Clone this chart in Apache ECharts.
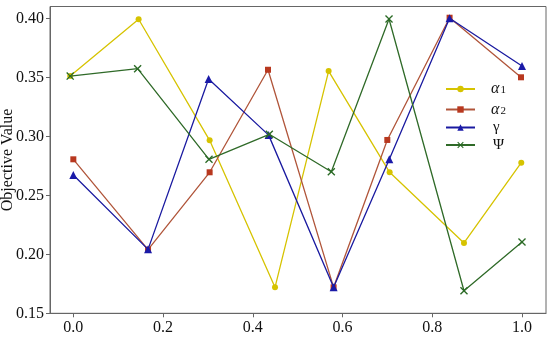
<!DOCTYPE html>
<html><head><meta charset="utf-8">
<script src="https://cdn.jsdelivr.net/npm/echarts@6/dist/echarts.min.js"></script>
<style>html,body{margin:0;padding:0;background:#fff}#c{width:550px;height:341px}</style>
</head><body><div id="c"></div>
<script>
const seriesNames = ['α1', 'α2', 'γ', 'Ψ'];
const a1X = [-0.007, 0.1455, 0.3038, 0.4495, 0.569, 0.705, 0.8707, 0.9984];
const a1Y = [0.351, 0.3992, 0.2966, 0.172, 0.3553, 0.2695, 0.2096, 0.2776];
const a2X = [0.0, 0.1665, 0.3038, 0.4339, 0.5801, 0.6998, 0.8386, 0.9978];
const a2Y = [0.2805, 0.2040, 0.2695, 0.3564, 0.172, 0.2969, 0.4005, 0.350];
const gX = [0.0, 0.1665, 0.3015, 0.4353, 0.5801, 0.7043, 0.8386, 1.0];
const gY = [0.2672, 0.2042, 0.3486, 0.301, 0.172, 0.2805, 0.400, 0.3596];
const pX = [-0.007, 0.1433, 0.3024, 0.4368, 0.575, 0.7036, 0.8707, 1.0];
const pY = [0.351, 0.3573, 0.2805, 0.3017, 0.270, 0.3994, 0.1691, 0.2104];
const xTicks = [0.0, 0.2, 0.4, 0.6, 0.8, 1.0];
const yTicks = [0.15, 0.20, 0.25, 0.30, 0.35, 0.40];

const zip = (xs, ys) => xs.map((x, i) => [x, ys[i]]);
const FONT = '"Liberation Serif", "DejaVu Serif", serif';
const xMark = 'path://M0,1.2L1.2,0L5,3.8L8.8,0L10,1.2L6.2,5L10,8.8L8.8,10L5,6.2L1.2,10L0,8.8L3.8,5Z';

const styles = [
  {line: '#d6c300', mark: '#d6c300', symbol: 'circle', size: 6},
  {line: '#b0553a', mark: '#b8381f', symbol: 'rect', size: 6},
  {line: '#1a1aa0', mark: '#1a1aa8', symbol: 'triangle', size: 8},
  {line: '#2f6a28', mark: '#2a6a25', symbol: xMark, size: 8}
];
const dataSets = [zip(a1X, a1Y), zip(a2X, a2Y), zip(gX, gY), zip(pX, pY)];

const chart = echarts.init(document.getElementById('c'), null, {renderer: 'canvas'});
chart.setOption({
  animation: false,
  backgroundColor: '#fff',
  grid: {left: 50, right: 4, top: 6.5, bottom: 27.7, show: true, borderColor: '#666', borderWidth: 1,
         containLabel: false, outerBoundsMode: 'none'},
  xAxis: {
    type: 'value', min: -0.052, max: 1.0535,
    axisLine: {show: true, onZero: false, lineStyle: {color: '#666'}},
    axisTick: {show: true, length: 4, customValues: xTicks, lineStyle: {color: '#666'}},
    axisLabel: {customValues: xTicks, formatter: v => v.toFixed(1), color: '#111', fontFamily: FONT, fontSize: 16, margin: 6},
    splitLine: {show: false}
  },
  yAxis: {
    type: 'value', min: 0.15, max: 0.41,
    name: 'Objective Value', nameLocation: 'middle', nameGap: 34, nameMoveOverlap: false,
    nameTextStyle: {color: '#111', fontFamily: FONT, fontSize: 16},
    axisLine: {show: true, onZero: false, lineStyle: {color: '#666'}},
    axisTick: {show: true, length: 4, customValues: yTicks, lineStyle: {color: '#666'}},
    axisLabel: {customValues: yTicks, formatter: v => v.toFixed(2), color: '#111', fontFamily: FONT, fontSize: 16, margin: 6},
    splitLine: {show: false}
  },
  legend: {
    orient: 'vertical', left: 440, top: 74,
    itemWidth: 29, itemHeight: 8, itemGap: 2.5,
    data: seriesNames,
    formatter: name => /\d$/.test(name) ? `{m|${name.slice(0, -1)}}{s|${name.slice(-1)}}` : `{u|${name}}`,
    textStyle: {
      color: '#111', fontFamily: FONT, padding: [0, 0, 0, 11],
      rich: {
        m: {fontFamily: FONT, fontSize: 16, fontStyle: 'italic', color: '#111', lineHeight: 14},
        u: {fontFamily: FONT, fontSize: 15, color: '#111', lineHeight: 14, padding: [0, 0, 0, 2]},
        s: {fontFamily: FONT, fontSize: 11, color: '#111', verticalAlign: 'bottom', lineHeight: 14, padding: [6, 0, 0, 1]}
      }
    }
  },
  series: dataSets.map((d, i) => ({
    name: seriesNames[i], type: 'line', data: d,
    symbol: styles[i].symbol, symbolSize: styles[i].size, showSymbol: true,
    lineStyle: {color: styles[i].line, width: 1.3},
    itemStyle: {color: styles[i].mark},
    z: 2 + i
  }))
});
</script></body></html>
